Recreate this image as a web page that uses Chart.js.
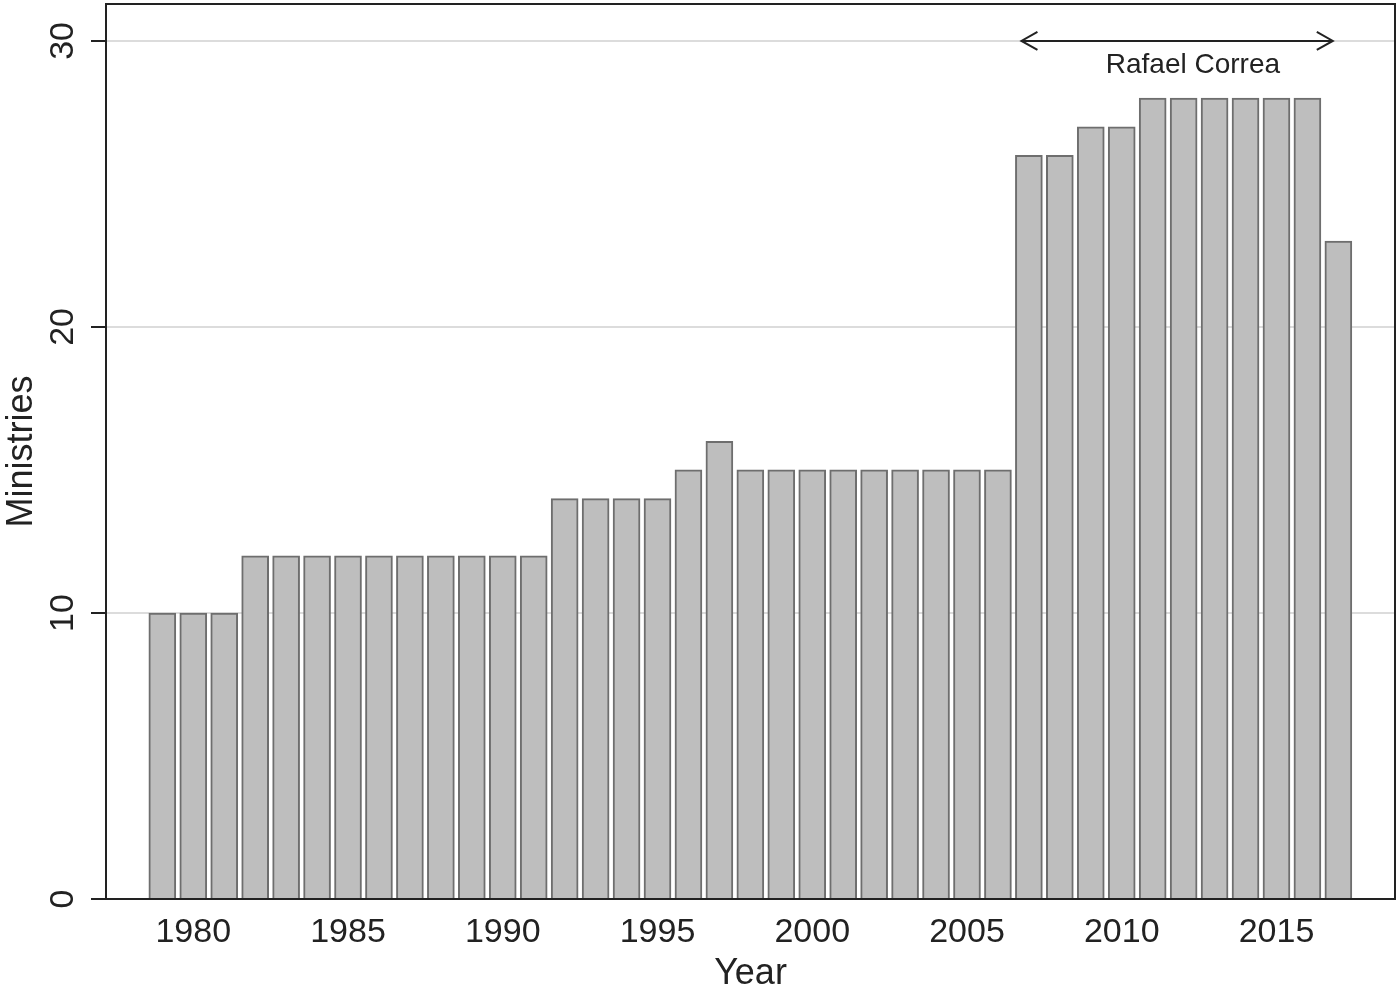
<!DOCTYPE html>
<html>
<head>
<meta charset="utf-8">
<script src="https://cdn.jsdelivr.net/npm/chart.js@4/dist/chart.umd.min.js"></script>
<style>
  body { margin: 0; background: #fff; }
  #wrap { width: 1400px; height: 988px; }
</style>
</head>
<body>
<div id="wrap"><canvas id="ministryChart"></canvas></div>
<script>
// data
var years = [1979, 1980, 1981, 1982, 1983, 1984, 1985, 1986, 1987, 1988, 1989, 1990,
             1991, 1992, 1993, 1994, 1995, 1996, 1997, 1998, 1999, 2000, 2001, 2002,
             2003, 2004, 2005, 2006, 2007, 2008, 2009, 2010, 2011, 2012, 2013, 2014,
             2015, 2016, 2017];
var ministries = [10, 10, 10, 12, 12, 12, 12, 12, 12, 12, 12, 12,
                  12, 14, 14, 14, 14, 15, 16, 15, 15, 15, 15, 15,
                  15, 15, 15, 15, 26, 26, 27, 27, 28, 28, 28, 28,
                  28, 28, 23];
var xTicks = [1980, 1985, 1990, 1995, 2000, 2005, 2010, 2015];
var yTicks = [0, 10, 20, 30];

// Correa period annotation (in data units)
var correaLabel = "Rafael Correa";
var correaFrom = 2006.76;
var correaTo = 2016.82;
var correaY = 30;
var correaTextX = 2012.3;
var correaTextY = 29.15;

var ink = "#222222";

var framePlugin = {
  id: "frame",
  afterDraw: function(chart) {
    var ctx = chart.ctx;
    var a = chart.chartArea;
    ctx.save();
    ctx.strokeStyle = ink;
    ctx.lineWidth = 2;
    ctx.beginPath();
    ctx.moveTo(a.left, a.top);
    ctx.lineTo(a.right, a.top);
    ctx.lineTo(a.right, a.bottom);
    ctx.stroke();
    ctx.restore();
  }
};

var correaPlugin = {
  id: "correa",
  afterDatasetsDraw: function(chart) {
    var ctx = chart.ctx;
    var xs = chart.scales.x, ys = chart.scales.y;
    var x1 = xs.getPixelForValue(correaFrom);
    var x2 = xs.getPixelForValue(correaTo);
    var y = ys.getPixelForValue(correaY);
    ctx.save();
    ctx.strokeStyle = ink;
    ctx.lineWidth = 2;
    ctx.beginPath();
    ctx.moveTo(x1, y); ctx.lineTo(x2, y);
    // open arrow heads
    ctx.moveTo(x1 + 16, y - 9); ctx.lineTo(x1, y); ctx.lineTo(x1 + 16, y + 9);
    ctx.moveTo(x2 - 16, y - 9); ctx.lineTo(x2, y); ctx.lineTo(x2 - 16, y + 9);
    ctx.stroke();
    ctx.fillStyle = ink;
    ctx.font = "28px 'Liberation Sans', Arial, sans-serif";
    ctx.textAlign = "center";
    ctx.textBaseline = "middle";
    ctx.fillText(correaLabel, xs.getPixelForValue(correaTextX), ys.getPixelForValue(correaTextY));
    ctx.restore();
  }
};

var points = years.map(function(yr, i) { return { x: yr, y: ministries[i] }; });

var chart = new Chart(document.getElementById("ministryChart"), {
  type: "bar",
  data: {
    datasets: [{
      label: "Ministries",
      data: points,
      backgroundColor: "#bebebe",
      borderColor: "#6e6e6e",
      borderWidth: 2,
      barThickness: 27
    }]
  },
  options: {
    responsive: true,
    maintainAspectRatio: false,
    animation: false,
    layout: { padding: { top: 4, right: 5, left: 0, bottom: 0 } },
    plugins: {
      legend: { display: false },
      tooltip: { enabled: false }
    },
    scales: {
      x: {
        type: "linear",
        offset: false,
        min: 1977.18,
        max: 2018.83,
        afterBuildTicks: function(scale) {
          scale.ticks = xTicks.map(function(v) { return { value: v }; });
        },
        afterFit: function(scale) {
          scale.height = 89;
          scale.paddingLeft = 0;
          scale.paddingRight = 0;
        },
        grid: { display: true, drawOnChartArea: false, drawTicks: false },
        border: { display: true, color: ink, width: 2 },
        ticks: {
          color: ink,
          padding: 13,
          maxRotation: 0,
          autoSkip: false,
          font: { family: "'Liberation Sans', Arial, sans-serif", size: 34 },
          callback: function(v) { return String(v); }
        },
        title: {
          display: true,
          text: "Year",
          color: ink,
          padding: 0,
          font: { family: "'Liberation Sans', Arial, sans-serif", size: 36, lineHeight: 0.78 }
        }
      },
      y: {
        min: 0,
        max: 31.29,
        afterBuildTicks: function(scale) {
          scale.ticks = yTicks.map(function(v) { return { value: v }; });
        },
        afterFit: function(scale) {
          scale.width = 106;
          scale.paddingTop = 0;
          scale.paddingBottom = 0;
        },
        grid: { color: "#dcdcdc", lineWidth: 2, tickColor: ink, tickLength: 15, tickWidth: 2 },
        border: { display: true, color: ink, width: 2 },
        ticks: {
          color: ink,
          minRotation: 90,
          maxRotation: 90,
          crossAlign: "center",
          padding: 8,
          font: { family: "'Liberation Sans', Arial, sans-serif", size: 34 }
        },
        title: {
          display: true,
          text: "Ministries",
          color: ink,
          padding: 0,
          font: { family: "'Liberation Sans', Arial, sans-serif", size: 36 }
        }
      }
    }
  },
  plugins: [framePlugin, correaPlugin]
});
</script>
</body>
</html>
